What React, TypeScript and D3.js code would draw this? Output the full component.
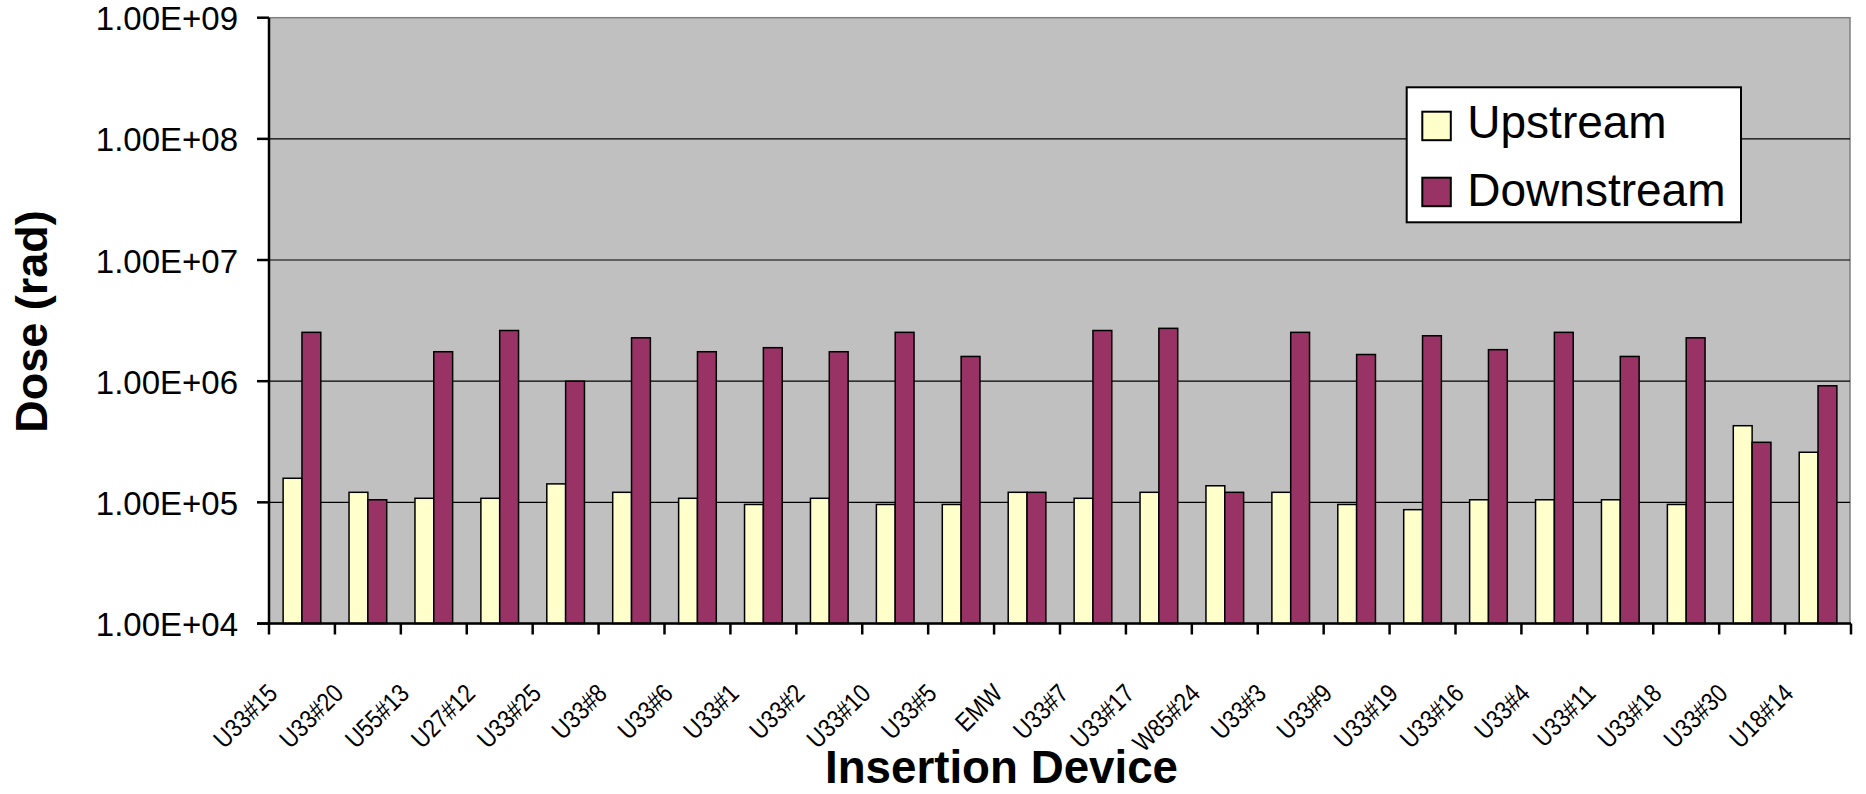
import React from 'react';
import * as d3 from 'd3';

const categories = ['U33#15','U33#20','U55#13','U27#12','U33#25','U33#8','U33#6','U33#1','U33#2','U33#10','U33#5','EMW','U33#7','U33#17','W85#24','U33#3','U33#9','U33#19','U33#16','U33#4','U33#11','U33#18','U33#30','U18#14'];
const upstream = [1.58e5,1.21e5,1.08e5,1.08e5,1.42e5,1.21e5,1.08e5,9.6e4,1.08e5,9.6e4,9.6e4,1.21e5,1.08e5,1.21e5,1.37e5,1.21e5,9.6e4,8.7e4,1.05e5,1.05e5,1.05e5,9.6e4,4.29e5,2.59e5];
const downstream = [2.53e6,1.05e5,1.75e6,2.62e6,1.0e6,2.28e6,1.75e6,1.89e6,1.75e6,2.53e6,1.6e6,1.21e5,2.62e6,2.73e6,1.21e5,2.53e6,1.66e6,2.37e6,1.82e6,2.53e6,1.6e6,2.28e6,3.13e5,9.16e5];
const seriesNames = ['Upstream','Downstream'];
const seriesColors = ['#FFFFCC','#993366'];
const yTicks = [1e4,1e5,1e6,1e7,1e8,1e9];
const yTickLabels = ['1.00E+04','1.00E+05','1.00E+06','1.00E+07','1.00E+08','1.00E+09'];

const FONT = "'Liberation Sans', Arial, sans-serif";

export default function App() {
  const left = 269, right = 1851, top = 17.7, bottom = 623.5;
  const x = d3.scaleBand<string>().domain(categories).range([left, right]).padding(0);
  const xs = d3.scaleBand<string>().domain(seriesNames).range([0, x.bandwidth()]).paddingInner(0).paddingOuter(0.75);
  const y = d3.scaleLog().domain([1e4, 1e9]).range([bottom, top]);
  const series = [upstream, downstream];

  return (
    <svg width={1866} height={794} style={{ position: 'absolute', left: 0, top: 0, background: '#fff' }} fontFamily={FONT}>
      <rect x={left} y={top} width={1850 - left} height={bottom - top} fill="#C0C0C0" stroke="#808080" strokeWidth={1.5} />
      {yTicks.slice(1, -1).map(t => (
        <line key={t} x1={left} x2={1850} y1={y(t)} y2={y(t)} stroke="#000" strokeWidth={1.2} />
      ))}
      {categories.map((c, i) => (
        <g key={c}>
          {series.map((s, j) => (
            <rect key={j} x={(x(c) as number) + (xs(seriesNames[j]) as number)} y={y(s[i])}
              width={xs.bandwidth()} height={bottom - y(s[i])}
              fill={seriesColors[j]} stroke="#000" strokeWidth={1.5} />
          ))}
        </g>
      ))}
      <line x1={left} x2={left} y1={top} y2={bottom + 11} stroke="#000" strokeWidth={2.5} />
      <line x1={left - 12} x2={1851} y1={bottom} y2={bottom} stroke="#000" strokeWidth={2.5} />
      {yTicks.map((t, i) => (
        <g key={t}>
          <line x1={left - 12} x2={left} y1={y(t)} y2={y(t)} stroke="#000" strokeWidth={2.5} />
          <text x={238} y={y(t) + 12.5} textAnchor="end" fontSize={33} fill="#000">{yTickLabels[i]}</text>
        </g>
      ))}
      {categories.map(c => (
        <line key={'t' + c} x1={(x(c) as number) + x.bandwidth()} x2={(x(c) as number) + x.bandwidth()} y1={bottom} y2={bottom + 11} stroke="#000" strokeWidth={2.5} />
      ))}
      {categories.map(c => {
        const cx = (x(c) as number) + x.bandwidth() / 2 - 23;
        const cy = 695;
        return (
          <g key={'l' + c} transform={`translate(${cx},${cy}) rotate(-45)`}>
            <text x={0} y={0} textAnchor="end" fontSize={26} fill="#000" transform="scale(0.85,1)">{c}</text>
          </g>
        );
      })}
      <text x={1001.5} y={783} textAnchor="middle" fontSize={45.7} fontWeight="bold" fill="#000">Insertion Device</text>
      <g transform="translate(47,321.5) rotate(-90)">
        <text x={0} y={0} textAnchor="middle" fontSize={45} fontWeight="bold" fill="#000">Dose (rad)</text>
      </g>
      <rect x={1406.7} y={87.3} width={1741 - 1406.7} height={222.3 - 87.3} fill="#fff" stroke="#000" strokeWidth={2} />
      {seriesNames.map((n, j) => (
        <g key={n}>
          <rect x={1422.3} y={[111.7, 177.7][j]} width={28.5} height={28.5} fill={seriesColors[j]} stroke="#000" strokeWidth={2} />
          <text x={1467.3} y={[137.5, 206][j]} fontSize={46} fill="#000">{n}</text>
        </g>
      ))}
    </svg>
  );
}
